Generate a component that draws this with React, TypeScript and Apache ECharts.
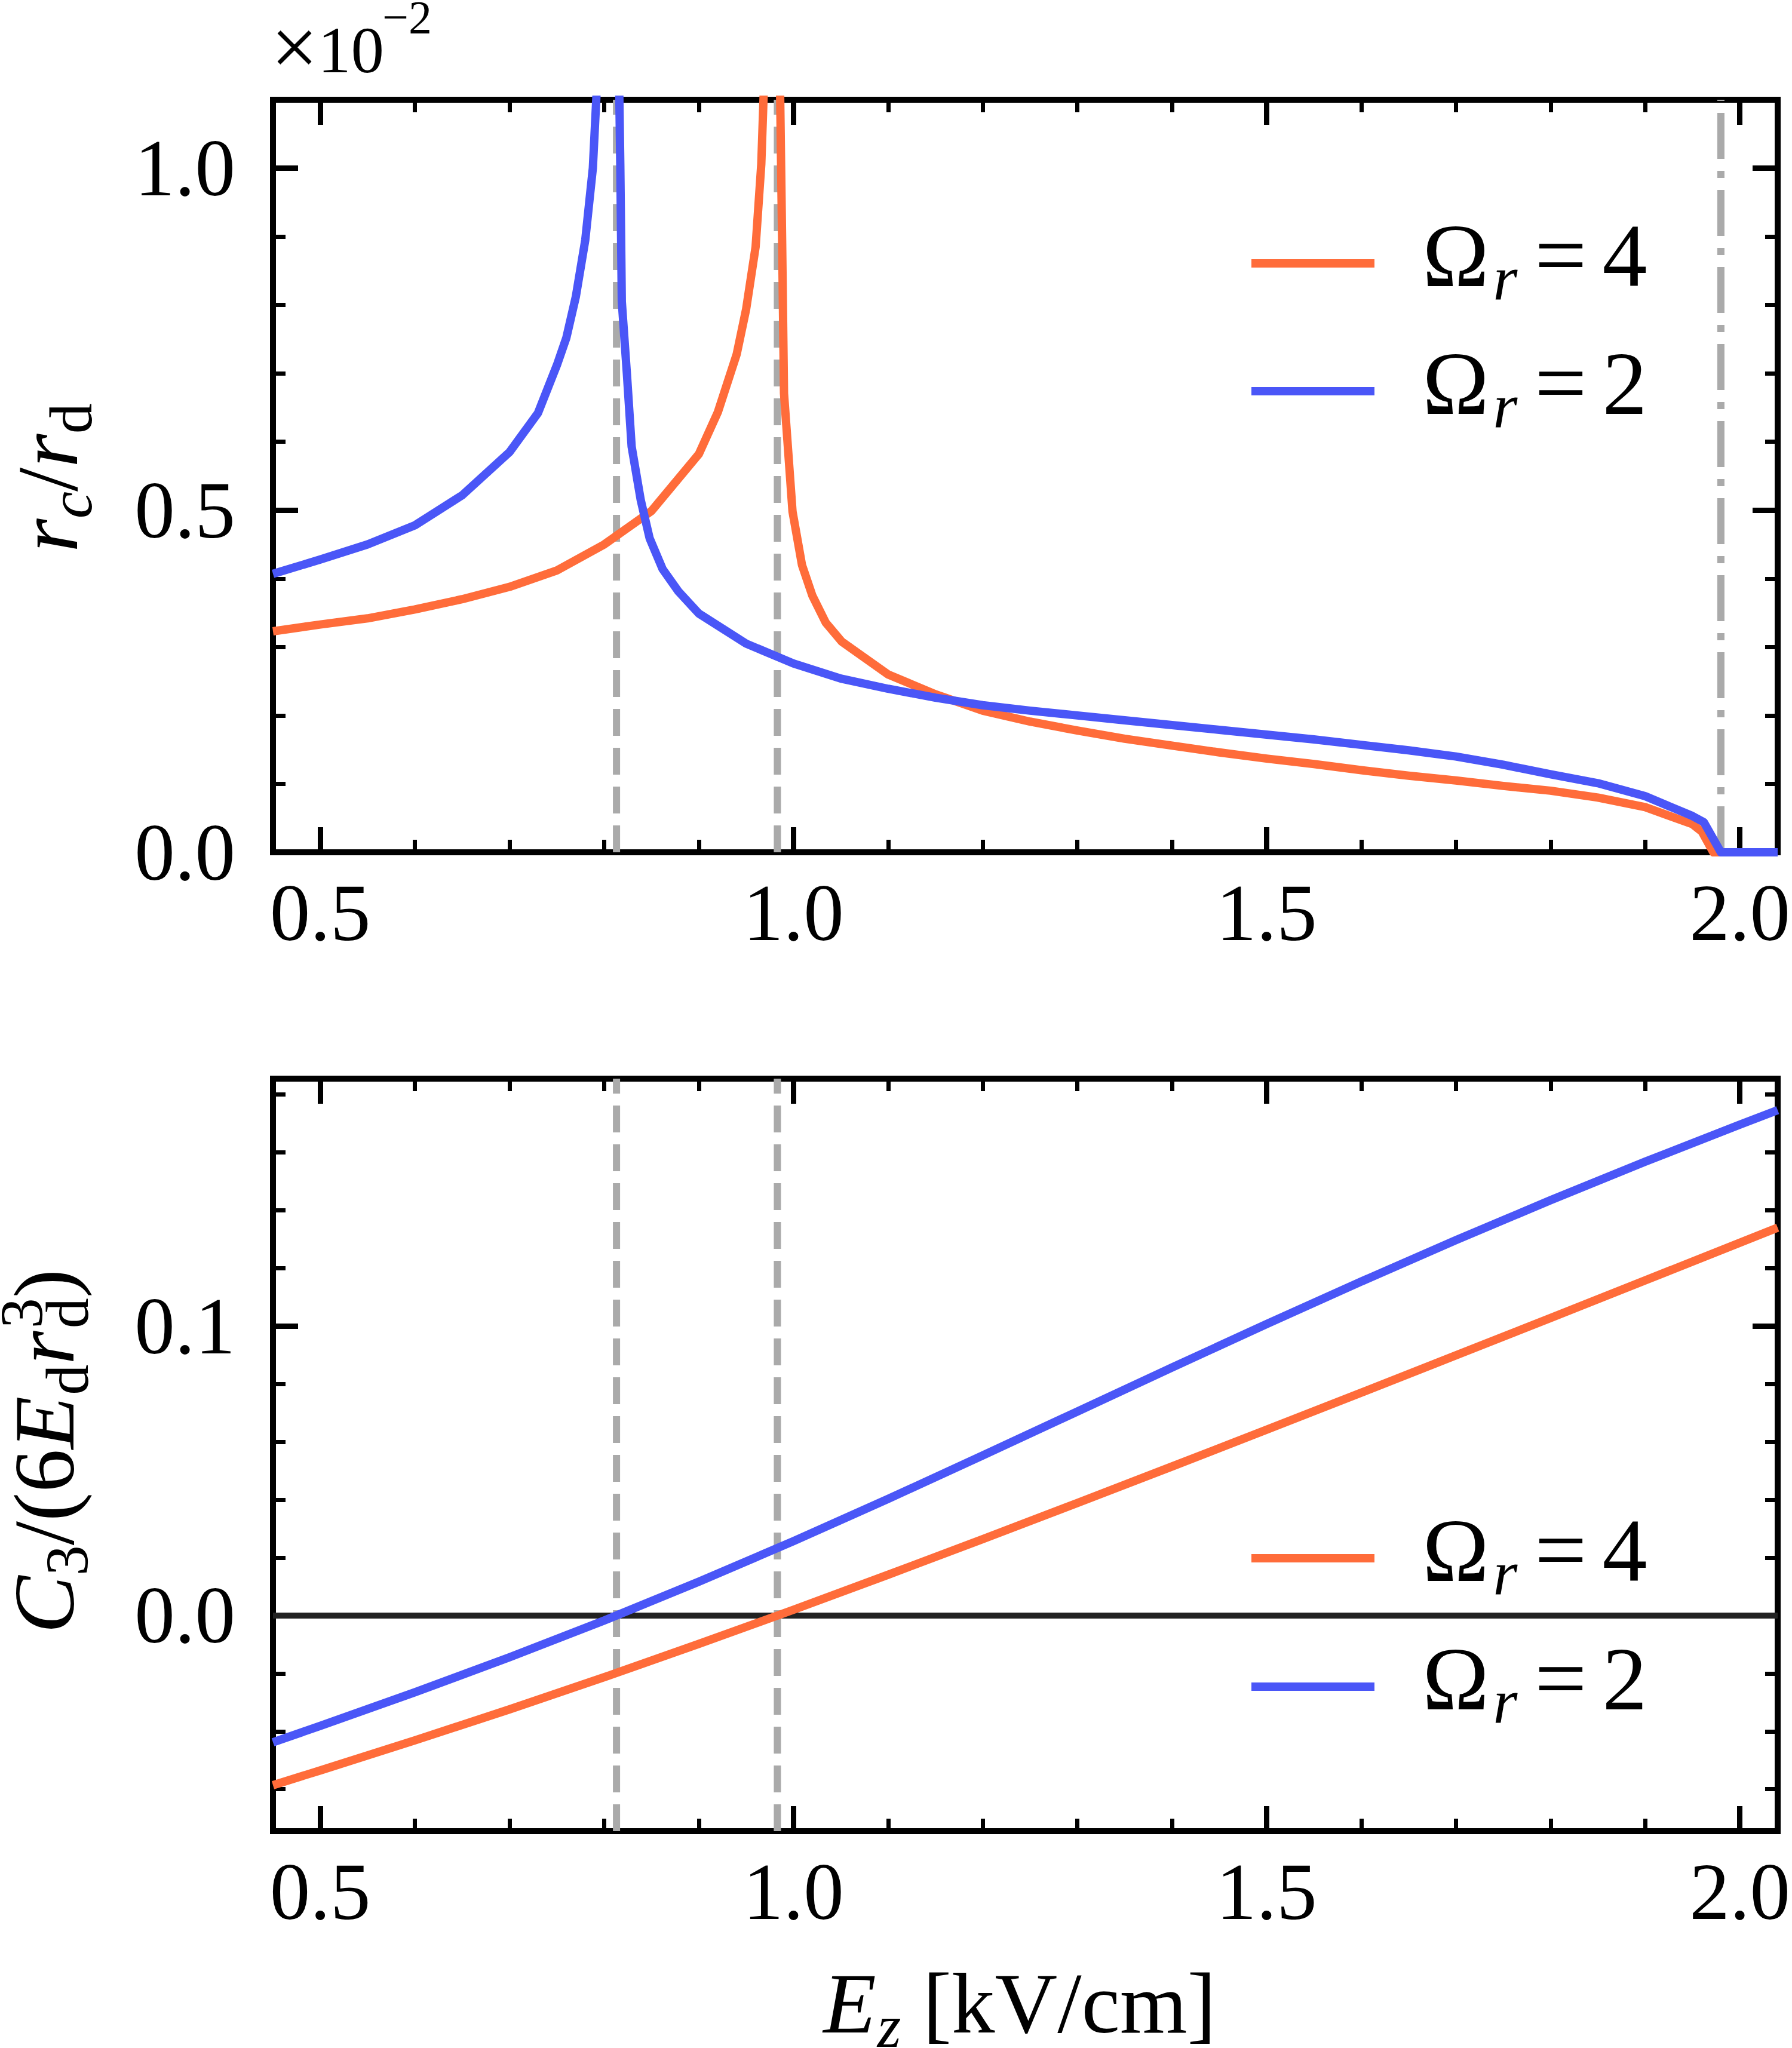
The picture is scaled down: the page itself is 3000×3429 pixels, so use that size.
import React, { useEffect, useRef } from "react";
import * as echarts from "echarts";

// ---------------- data ----------------
const FONT = '"Liberation Serif", "Times New Roman", serif';
const ORANGE = "#FF6C3A";
const BLUE = "#4A56F7";
const GRAY = "#AAAAAA";

const X_RANGE = [0.45, 2.04];
const X_MAJOR_TICKS = [0.5, 1.0, 1.5, 2.0];
const X_MINOR_TICKS = [0.5, 0.6, 0.7, 0.8, 0.9, 1.0, 1.1, 1.2, 1.3, 1.4, 1.5, 1.6, 1.7, 1.8, 1.9, 2.0];

const TOP_Y_RANGE = [0, 1.1];
const TOP_Y_MAJOR = [0, 0.5, 1.0];
const TOP_Y_MINOR = [0.1, 0.2, 0.3, 0.4, 0.5, 0.6, 0.7, 0.8, 0.9, 1.0];

const BOT_Y_RANGE = [-0.0745, 0.1855];
const BOT_Y_MAJOR = [0, 0.1];
const BOT_Y_MINOR = [-0.06, -0.04, -0.02, 0, 0.02, 0.04, 0.06, 0.08, 0.1, 0.12, 0.14, 0.16, 0.18];

// vertical reference lines
const MARKER_E_SINGULAR = [0.813, 0.983];
const MARKER_E_CUTOFF = [1.98];

// top panel: r_c / r_d  (units of 1e-2)
const TOP_E_OMEGA4 = [0.45, 0.5, 0.55, 0.6, 0.65, 0.7, 0.75, 0.8, 0.85, 0.9, 0.92, 0.94, 0.95, 0.96, 0.966, 0.972,
  0.984, 0.986, 0.988, 0.99, 0.999, 1.009, 1.02, 1.034, 1.051, 1.1, 1.15, 1.2, 1.25, 1.3, 1.35, 1.4, 1.45, 1.5,
  1.55, 1.6, 1.65, 1.7, 1.75, 1.8, 1.85, 1.9, 1.95, 1.96, 1.972, 2.04];
const TOP_RC_OMEGA4 = [0.323, 0.333, 0.342, 0.355, 0.37, 0.388, 0.412, 0.45, 0.499, 0.582, 0.643, 0.728, 0.794, 0.885, 1.006, 1.25,
  1.25, 1.1, 0.894, 0.671, 0.498, 0.42, 0.375, 0.336, 0.308, 0.26, 0.231, 0.207, 0.191, 0.178, 0.166, 0.156, 0.146, 0.137,
  0.129, 0.12, 0.112, 0.105, 0.097, 0.09, 0.08, 0.066, 0.041, 0.03, 0, 0];

const TOP_E_OMEGA2 = [0.45, 0.5, 0.55, 0.6, 0.65, 0.7, 0.73, 0.75, 0.76, 0.77, 0.78, 0.788, 0.797,
  0.8145, 0.817, 0.8186, 0.824, 0.829, 0.8386, 0.848, 0.8617, 0.8786, 0.9, 0.95, 1.0, 1.05, 1.1, 1.15, 1.2, 1.25, 1.3,
  1.35, 1.4, 1.45, 1.5, 1.55, 1.6, 1.65, 1.7, 1.75, 1.8, 1.85, 1.9, 1.95, 1.962, 1.98, 2.04];
const TOP_RC_OMEGA2 = [0.407, 0.428, 0.45, 0.478, 0.522, 0.585, 0.642, 0.712, 0.752, 0.812, 0.895, 1.0, 1.25,
  1.25, 1.006, 0.805, 0.699, 0.593, 0.515, 0.459, 0.414, 0.381, 0.349, 0.305, 0.276, 0.254, 0.239, 0.226, 0.215, 0.207, 0.2,
  0.193, 0.186, 0.179, 0.172, 0.165, 0.157, 0.149, 0.14, 0.128, 0.114, 0.101, 0.082, 0.053, 0.044, 0, 0];

// bottom panel: C3 / (6 E_d r_d^3)
const BOT_E = [0.45, 0.5, 0.6, 0.7, 0.8, 0.9, 1.0, 1.1, 1.2, 1.3, 1.4, 1.5, 1.6, 1.7, 1.8, 1.9, 2.0, 2.04];
const BOT_C3_OMEGA4 = [-0.0586, -0.0535, -0.0431, -0.0324, -0.0213, -0.0098, 0.002, 0.0141, 0.0264, 0.0389, 0.0515,
  0.0642, 0.077, 0.0899, 0.1028, 0.1158, 0.1288, 0.134];
const BOT_C3_OMEGA2 = [-0.0438, -0.0381, -0.0265, -0.0144, -0.0017, 0.0117, 0.0257, 0.0403, 0.0553, 0.0705, 0.0857,
  0.1007, 0.1154, 0.1297, 0.1435, 0.1568, 0.1696, 0.1746];

const LEGEND_LABELS = ["4", "2"];

// ---------------- helpers ----------------
const zip = (xs: number[], ys: number[]) => xs.map((x, i) => [x, ys[i]]);

function axisSet(dim: "x" | "y", gridIndex: number, range: number[], major: number[], minor: number[], margin: number) {
  const sides = dim === "x" ? ["bottom", "top"] : ["left", "right"];
  const out: any[] = [];
  sides.forEach((pos, si) => {
    out.push({
      type: "value",
      gridIndex,
      position: pos,
      min: range[0],
      max: range[1],
      axisLine: { show: true, onZero: false, lineStyle: { color: "#000", width: 10, cap: "square" } },
      axisTick: { show: true, inside: true, length: 42, customValues: major, lineStyle: { color: "#000", width: 9 } },
      axisLabel: {
        show: si === 0,
        customValues: major,
        formatter: (v: number) => v.toFixed(1),
        margin,
        fontSize: 135,
        fontFamily: FONT,
        color: "#000",
      },
      splitLine: { show: false },
      minorTick: { show: false },
    });
    out.push({
      type: "value",
      gridIndex,
      position: pos,
      min: range[0],
      max: range[1],
      axisLine: { show: false, onZero: false },
      axisTick: { show: true, inside: true, length: 21, customValues: minor, lineStyle: { color: "#000", width: 7 } },
      axisLabel: { show: false },
      splitLine: { show: false },
      minorTick: { show: false },
    });
  });
  return out;
}

type Piece = { t: string; size: number; italic?: boolean; shift?: number; stack?: boolean; kern?: number };
const fontStr = (p: { size: number; italic?: boolean }) => `${p.italic ? "italic " : ""}${p.size}px ${FONT}`;

function textEl(t: string, x: number, baseline: number, size: number, italic: boolean, align: string) {
  const font = fontStr({ size, italic });
  return {
    type: "text",
    x,
    y: baseline - 0.3374 * size,
    silent: true,
    style: {
      text: t,
      font,
      fill: "#000",
      textAlign: align,
      align,
      textVerticalAlign: "middle",
      verticalAlign: "middle",
    },
  };
}

function mathText(pieces: Piece[], cx: number, baseline: number, rotation: number) {
  const ctx = document.createElement("canvas").getContext("2d") as CanvasRenderingContext2D;
  let cursor = 0;
  let pendingW = 0;
  const items: { p: Piece; x: number }[] = [];
  pieces.forEach((p) => {
    ctx.font = fontStr(p);
    const w = ctx.measureText(p.t).width;
    items.push({ p, x: cursor });
    if (p.stack) pendingW = Math.max(pendingW, w);
    else {
      cursor += Math.max(w, pendingW) + (p.kern || 0);
      pendingW = 0;
    }
  });
  const width = cursor;
  return {
    type: "group",
    x: cx,
    y: baseline,
    rotation,
    children: items.map(({ p, x }) => textEl(p.t, x - width / 2, p.shift || 0, p.size, !!p.italic, "left")),
  };
}

function legendItem(color: string, lineY: number, label: string) {
  const base = lineY + 38;
  return [
    {
      type: "line",
      silent: true,
      shape: { x1: 2095, y1: lineY, x2: 2301, y2: lineY },
      style: { stroke: color, lineWidth: 14, lineCap: "butt" },
    },
    textEl("\u03A9", 2437, base, 150, false, "center"),
    textEl("r", 2520, base + 22, 105, true, "center"),
    textEl("=", 2613, base, 155, false, "center"),
    textEl(label, 2720, base, 150, false, "center"),
  ];
}

function vLines(xs: number[], range: number[], xAxisIndex: number, yAxisIndex: number, dash: number[]) {
  return xs.map((x) => ({
    type: "line",
    xAxisIndex,
    yAxisIndex,
    data: [[x, range[0]], [x, range[1]]],
    symbol: "none",
    silent: true,
    lineStyle: { color: GRAY, width: 12, type: dash },
  }));
}

function curve(xs: number[], ys: number[], color: string, xAxisIndex: number, yAxisIndex: number) {
  return {
    type: "line",
    xAxisIndex,
    yAxisIndex,
    data: zip(xs, ys),
    symbol: "none",
    clip: true,
    silent: true,
    lineStyle: { color, width: 14, join: "round", cap: "butt" },
  };
}

function buildOption() {
  const graphic: any[] = [
    ...legendItem(ORANGE, 441, LEGEND_LABELS[0]),
    ...legendItem(BLUE, 655, LEGEND_LABELS[1]),
    ...legendItem(ORANGE, 2609, LEGEND_LABELS[0]),
    ...legendItem(BLUE, 2824, LEGEND_LABELS[1]),
    // offset text x10^-2
    textEl("\u00D7", 493, 126, 140, false, "center"),
    textEl("10", 532, 121, 111, false, "left"),
    textEl("\u22122", 640, 55, 78, false, "left"),
    // axis titles
    mathText(
      [
        { t: "r", size: 145, italic: true },
        { t: "c", size: 102, italic: true, shift: 24 },
        { t: "/", size: 145 },
        { t: "r", size: 145, italic: true },
        { t: "d", size: 102, shift: 24 },
      ],
      129,
      800,
      Math.PI / 2
    ),
    mathText(
      [
        { t: "C", size: 145, italic: true },
        { t: "3", size: 102, shift: 24 },
        { t: "/", size: 145 },
        { t: "(", size: 145 },
        { t: "6", size: 145 },
        { t: "E", size: 145, italic: true, kern: 2 },
        { t: "d", size: 102, shift: 24 },
        { t: "r", size: 145, italic: true, kern: 4 },
        { t: "3", size: 102, shift: -52, stack: true },
        { t: "d", size: 102, shift: 24 },
        { t: ")", size: 145 },
      ],
      123,
      2430,
      Math.PI / 2
    ),
    mathText(
      [
        { t: "E", size: 145, italic: true, kern: 2 },
        { t: "z", size: 102, italic: true, shift: 24 },
        { t: " [kV/cm]", size: 145 },
      ],
      1707,
      3403,
      0
    ),
  ];

  return {
    animation: false,
    backgroundColor: "#ffffff",
    grid: [
      { left: 457, top: 167, width: 2519, height: 1260 },
      { left: 457, top: 1806, width: 2519, height: 1260 },
    ],
    xAxis: [
      ...axisSet("x", 0, X_RANGE, X_MAJOR_TICKS, X_MINOR_TICKS, 34),
      ...axisSet("x", 1, X_RANGE, X_MAJOR_TICKS, X_MINOR_TICKS, 34),
    ],
    yAxis: [
      ...axisSet("y", 0, TOP_Y_RANGE, TOP_Y_MAJOR, TOP_Y_MINOR, 63),
      ...axisSet("y", 1, BOT_Y_RANGE, BOT_Y_MAJOR, BOT_Y_MINOR, 63),
    ],
    series: [
      // top panel
      ...vLines(MARKER_E_SINGULAR, TOP_Y_RANGE, 0, 0, [45, 20]),
      ...vLines(MARKER_E_CUTOFF, TOP_Y_RANGE, 0, 0, [77, 20, 12, 20]),
      curve(TOP_E_OMEGA4, TOP_RC_OMEGA4, ORANGE, 0, 0),
      curve(TOP_E_OMEGA2, TOP_RC_OMEGA2, BLUE, 0, 0),
      // bottom panel
      {
        type: "line",
        xAxisIndex: 4,
        yAxisIndex: 4,
        data: [[X_RANGE[0], 0], [X_RANGE[1], 0]],
        symbol: "none",
        silent: true,
        lineStyle: { color: "#222222", width: 10 },
      },
      ...vLines(MARKER_E_SINGULAR, BOT_Y_RANGE, 4, 4, [45, 20]),
      curve(BOT_E, BOT_C3_OMEGA4, ORANGE, 4, 4),
      curve(BOT_E, BOT_C3_OMEGA2, BLUE, 4, 4),
    ],
    graphic,
  };
}

export default function App() {
  const ref = useRef<HTMLDivElement>(null);
  useEffect(() => {
    const el = ref.current;
    if (!el) return;
    const chart = echarts.init(el, undefined, { renderer: "svg", width: 3000, height: 3429 });
    chart.setOption(buildOption() as any);
    return () => chart.dispose();
  }, []);
  return (
    <div
      ref={ref}
      style={{ position: "absolute", left: 0, top: 0, width: 3000, height: 3429, background: "#fff" }}
    />
  );
}
